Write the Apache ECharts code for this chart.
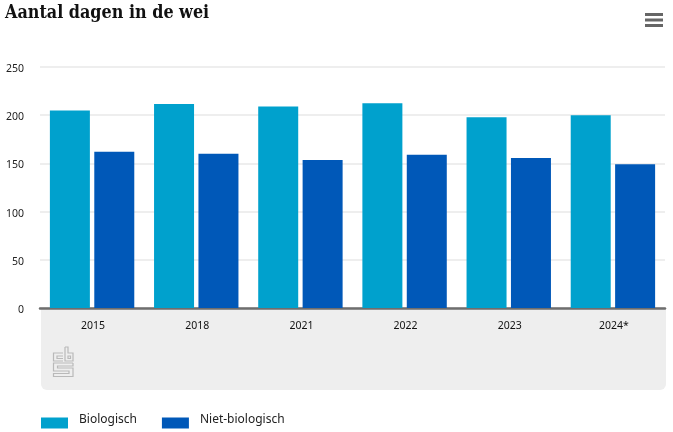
<!DOCTYPE html>
<html><head><meta charset="utf-8">
<style>html,body{margin:0;padding:0;background:#fff}#c{width:673px;height:432px}</style>
<script src="https://cdn.jsdelivr.net/npm/echarts@6/dist/echarts.min.js"></script>
</head><body><div id="c"></div>
<script>
const categories = ['2015','2018','2021','2022','2023','2024*'];
const biologisch = [205,211.5,209,212.5,198,200];
const nietBiologisch = [162,160,153.5,159,155.5,149];
const yTicks = [0,50,100,150,200,250];
const FONT = '"Noto Sans"';
const chart = echarts.init(document.getElementById('c'), null, {renderer:'canvas'});
const logoStroke = {stroke:'#b9b9b9', lineWidth:1.2, fill:null};
const poly = pts => ({type:'polyline', shape:{points:pts}, style:logoStroke, z:3});
chart.setOption({
  animation:false,
  title:{text:'Aantal dagen in de wei', left:0, top:-1,
    textStyle:{fontFamily:'"DejaVu Serif Condensed"', fontWeight:'bold', fontSize:17.8, color:'#111'}},
  grid:{left:40, right:8, top:67, height:241, containLabel:false},
  legend:{left:36, top:409, itemWidth:27, itemHeight:11, itemGap:25, icon:'rect',
    formatter:'{n|{name}}',
    textStyle:{rich:{n:{fontFamily:FONT, fontSize:12, color:'#222', padding:[0,0,6,6]}}},
    data:['Biologisch','Niet-biologisch']},
  xAxis:{type:'category', data:categories,
    axisLine:{lineStyle:{color:'#6e6e6e', width:2.5}},
    axisTick:{show:false},
    axisLabel:{fontFamily:FONT, fontSize:10.5, color:'#111', margin:13, padding:[0,0,0,2]}},
  yAxis:{type:'value', min:0, max:250, interval:50,
    axisLine:{show:false}, axisTick:{show:false},
    splitLine:{lineStyle:{color:'#e9e9e9', width:1.5}},
    axisLabel:{fontFamily:FONT, fontSize:10.5, color:'#222', margin:16, verticalAlign:'top', padding:[-3.5,0,0,0],
      formatter:v=>yTicks.includes(v)?String(v):''}},
  series:[
    {name:'Biologisch', type:'bar', data:biologisch, barWidth:40, barGap:'11%',
      itemStyle:{color:'#00a1cd'}, z:2},
    {name:'Niet-biologisch', type:'bar', data:nietBiologisch, barWidth:40,
      itemStyle:{color:'#0058b8'}, z:2}
  ],
  graphic:[
    {type:'rect', z:-1, shape:{x:41, y:308, width:625, height:82, r:[0,0,6,6]}, style:{fill:'#eeeeee'}},
    {type:'rect', shape:{x:645, y:13, width:18, height:3}, style:{fill:'#666'}},
    {type:'rect', shape:{x:645, y:18.5, width:18, height:3}, style:{fill:'#666'}},
    {type:'rect', shape:{x:645, y:24, width:18, height:3}, style:{fill:'#666'}},
    poly([[63,353],[53.5,353],[53.5,361],[63,361]]),
    poly([[63,356],[57,356],[57,358.5],[63,358.5]]),
    poly([[65,347],[65,361],[73,361],[73,353],[68,353],[68,347],[65,347]]),
    {type:'rect', shape:{x:68,y:356,width:2.5,height:2.5}, style:logoStroke, z:3},
    poly([[73,363],[53.5,363],[53.5,371],[69,371],[69,373.5],[53.5,373.5],[53.5,376.5],[73,376.5],[73,368],[57.5,368],[57.5,366],[73,366],[73,363]])
  ]
});
</script></body></html>
